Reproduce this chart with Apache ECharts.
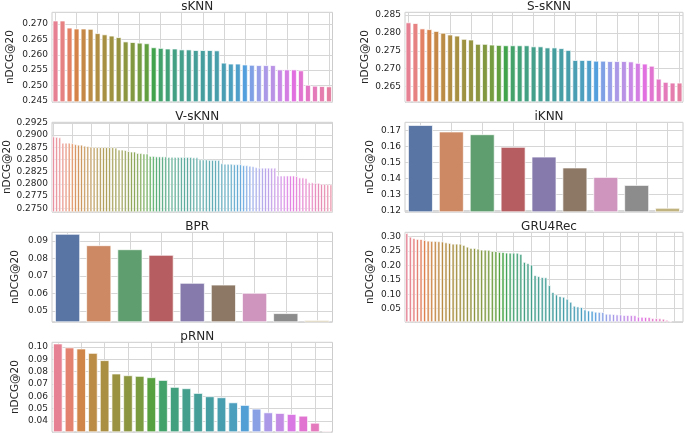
<!DOCTYPE html>
<html><head><meta charset="utf-8">
<script src="https://cdn.jsdelivr.net/npm/echarts@6/dist/echarts.min.js"></script>
<style>html,body{margin:0;padding:0;background:#fff}#c{width:685px;height:433px}</style>
</head><body><div id="c"></div>
<script>
// ---------------- data ----------------
const titles = ['sKNN', 'S-sKNN', 'V-sKNN', 'iKNN', 'BPR', 'GRU4Rec', 'pRNN'];
const yLabel = 'nDCG@20';

const sknn = [0.2711,0.2711,0.2688,0.2685,0.2685,0.2684,0.2670,0.2666,0.2662,0.2657,
  0.2643,0.2641,0.2639,0.2637,0.2624,0.2622,0.2620,0.2620,0.2617,0.2617,
  0.2615,0.2615,0.2615,0.2614,0.2574,0.2571,0.2571,0.2568,0.2567,0.2566,
  0.2566,0.2566,0.2552,0.2552,0.2552,0.2549,0.2502,0.2499,0.2498,0.2497];

const ssknn = [0.2829,0.2827,0.2812,0.2810,0.2805,0.2800,0.2795,0.2792,0.2783,0.2781,
  0.2769,0.2769,0.2767,0.2766,0.2765,0.2765,0.2765,0.2765,0.2762,0.2762,
  0.2759,0.2759,0.2757,0.2752,0.2724,0.2724,0.2724,0.2722,0.2722,0.2721,
  0.2721,0.2721,0.2720,0.2716,0.2714,0.2708,0.2672,0.2663,0.2661,0.2661];

const vsknn = [0.2897,0.2896,0.2895,
  0.2884,0.2884,0.2884,0.2883,
  0.2881,0.2880,0.2880,
  0.2878,0.2877,0.2876,
  0.2875,0.2875,0.2875,0.2875,0.2875,0.2875,0.2875,0.2874,
  0.2870,0.2870,0.2869,
  0.2867,0.2866,0.2866,
  0.2863,0.2863,0.2862,0.2862,
  0.2857,0.2857,0.2856,0.2856,
  0.2856,0.2856,0.2855,0.2855,0.2855,0.2855,0.2855,0.2855,0.2855,0.2855,0.2854,0.2854,
  0.2850,0.2850,0.2850,0.2849,0.2849,0.2849,0.2849,
  0.2842,0.2841,0.2841,0.2841,0.2840,0.2840,0.2840,
  0.2838,0.2838,0.2837,0.2836,
  0.2834,0.2833,0.2833,0.2833,0.2833,0.2833,0.2833,
  0.2817,0.2817,0.2817,0.2817,0.2817,0.2817,0.2816,
  0.2813,0.2813,0.2812,
  0.2803,0.2803,0.2802,0.2802,
  0.2800,0.2800,0.2799,0.2799];

const iknn = [0.1733,0.1692,0.1675,0.1596,0.1535,0.1467,0.1408,0.1358,0.1215];

const bpr = [0.0940,0.0875,0.0852,0.0820,0.0660,0.0650,0.0603,0.0487,0.0447];

const gru4rec = [0.311,0.2986,0.294,0.2907,0.2905,0.2872,0.2849,0.284,0.2838,0.2828,
  0.282,0.279,0.277,0.2745,0.2745,0.2743,0.270,0.264,0.2597,0.2595,
  0.2573,0.2538,0.2536,0.2530,0.2493,0.2488,0.2459,0.2455,0.2435,0.2432,
  0.2432,0.2430,0.239,0.2114,0.2069,0.202,0.1655,0.162,0.159,0.158,
  0.131,0.107,0.0986,0.093,0.0907,0.0838,0.0734,0.0597,0.0572,0.0552,
  0.0469,0.0434,0.0424,0.039,0.0383,0.038,0.032,0.032,0.031,0.0297,
  0.0295,0.0276,0.0275,0.0272,0.027,0.0217,0.0215,0.021,0.0208,0.0172,
  0.017,0.0165,0.0148,0.011,0.0069,0.0046,0.0046,0.0046];

const prnn = [0.1027,0.0995,0.0986,0.0951,0.0892,0.0784,0.0770,0.0765,0.0754,0.0732,
  0.0676,0.0665,0.0627,0.0600,0.0592,0.0551,0.0530,0.0500,0.0470,0.0465,
  0.0457,0.0443,0.0386,0.0320];

const seriesData = [sknn, ssknn, vsknn, iknn, bpr, gru4rec, prnn];
const tickSteps = [0.005, 0.005, 0.0025, 0.01, 0.01, 0.05, 0.01];
const tickDecimals = [3, 3, 4, 2, 2, 2, 2];

// ---------------- layout ----------------
const panels = [
  {left: 52,  top: 12.3,  width: 280.5, height: 89.5, nameGap: 36.5},
  {left: 405, top: 12.3,  width: 278,   height: 89.5, nameGap: 34.5},
  {left: 52,  top: 122.3, width: 280.5, height: 89.5, nameGap: 39.5},
  {left: 405, top: 122.3, width: 278,   height: 89.5, nameGap: 29.5},
  {left: 52,  top: 232.3, width: 280.5, height: 89.5, nameGap: 31.5},
  {left: 405, top: 232.3, width: 278,   height: 89.5, nameGap: 29.5},
  {left: 52,  top: 342.3, width: 280.5, height: 89.5, nameGap: 31.5}
];

// ---------------- seaborn palettes ----------------
const M = [[3.2406,-1.5372,-0.4986],[-0.9689,1.8758,0.0415],[0.0557,-0.2040,1.0570]];
function maxChroma(L, H) {
  const hr = H * Math.PI / 180, sinH = Math.sin(hr), cosH = Math.cos(hr);
  const sub1 = Math.pow(L + 16, 3) / 1560896;
  const sub2 = sub1 > 0.008856 ? sub1 : L / 903.3;
  let res = Infinity;
  for (const [m1, m2, m3] of M) {
    const top = (0.99915 * m1 + 1.05122 * m2 + 1.14460 * m3) * sub2;
    const rb = 0.86330 * m3 - 0.17266 * m2;
    const lb = 0.12949 * m3 - 0.38848 * m1;
    const bottom = (rb * sinH + lb * cosH) * sub2;
    for (const t of [0, 1]) {
      const C = L * (top - 1.05122 * t) / (bottom + 0.17266 * sinH * t);
      if (C > 0 && C < res) res = C;
    }
  }
  return res;
}
function huslToRgb(H, S, L) {
  const C = maxChroma(L, H) / 100 * S;
  const hr = H * Math.PI / 180;
  const U = Math.cos(hr) * C, V = Math.sin(hr) * C;
  const fInv = t => Math.pow(t, 3) > 0.008856 ? Math.pow(t, 3) : (116 * t - 16) / 903.3;
  const varY = fInv((L + 16) / 116);
  const varU = U / (13 * L) + 0.19784, varV = V / (13 * L) + 0.46834;
  const Y = varY;
  const X = 0 - (9 * Y * varU) / ((varU - 4) * varV - varU * varV);
  const Z = (9 * Y - 15 * varV * Y - varV * X) / (3 * varV);
  return M.map(r => {
    const c = r[0] * X + r[1] * Y + r[2] * Z;
    const v = c <= 0.0031308 ? 12.92 * c : 1.055 * Math.pow(c, 1 / 2.4) - 0.055;
    return Math.min(1, Math.max(0, v));
  });
}
function rgbToHls(r, g, b) {
  const maxc = Math.max(r, g, b), minc = Math.min(r, g, b);
  const l = (minc + maxc) / 2;
  if (minc === maxc) return [0, l, 0];
  const s = l <= 0.5 ? (maxc - minc) / (maxc + minc) : (maxc - minc) / (2 - maxc - minc);
  const rc = (maxc - r) / (maxc - minc), gc = (maxc - g) / (maxc - minc), bc = (maxc - b) / (maxc - minc);
  let h;
  if (r === maxc) h = bc - gc; else if (g === maxc) h = 2 + rc - bc; else h = 4 + gc - rc;
  h = ((h / 6) % 1 + 1) % 1;
  return [h, l, s];
}
function hlsToRgb(h, l, s) {
  if (s === 0) return [l, l, l];
  const m2 = l <= 0.5 ? l * (1 + s) : l + s - l * s;
  const m1 = 2 * l - m2;
  const v = (hue) => {
    hue = ((hue % 1) + 1) % 1;
    if (hue < 1 / 6) return m1 + (m2 - m1) * hue * 6;
    if (hue < 0.5) return m2;
    if (hue < 2 / 3) return m1 + (m2 - m1) * (2 / 3 - hue) * 6;
    return m1;
  };
  return [v(h + 1 / 3), v(h), v(h - 1 / 3)];
}
function desat(rgb, p) {
  const [h, l, s] = rgbToHls(rgb[0], rgb[1], rgb[2]);
  return hlsToRgb(h, l, s * p);
}
function toHex(rgb) {
  return '#' + rgb.map(c => Math.round(c * 255).toString(16).padStart(2, '0')).join('');
}
function hexToRgb(h) {
  return [1, 3, 5].map(i => parseInt(h.substr(i, 2), 16) / 255);
}
const deep = ['#4C72B0','#DD8452','#55A868','#C44E52','#8172B3','#937860','#DA8BC3','#8C8C8C','#CCB974','#64B5CD'];
function palette(n) {
  let cols;
  if (n <= deep.length) {
    cols = deep.slice(0, n).map(hexToRgb);
  } else {
    cols = [];
    for (let i = 0; i < n; i++) {
      let h = (i / n + 0.01) % 1;
      cols.push(huslToRgb(h * 359, 0.9 * 99, 0.65 * 99));
    }
  }
  return cols.map(c => toHex(desat(c, 0.75)));
}

// ---------------- option ----------------
const font = 'DejaVu Sans, Liberation Sans, sans-serif';
const textColor = '#262626';
const gridColor = '#d6d6d6';

const option = {
  backgroundColor: '#ffffff',
  animation: false,
  title: [], grid: [], xAxis: [], yAxis: [], series: []
};

seriesData.forEach((vals, k) => {
  const p = panels[k];
  const cols = palette(vals.length);
  const vmin = Math.min(...vals), vmax = Math.max(...vals);
  option.title.push({
    text: titles[k],
    left: p.left + p.width / 2,
    top: p.top - 16.5,
    textAlign: 'center',
    textStyle: {fontFamily: font, fontSize: 12, fontWeight: 'normal', color: textColor}
  });
  option.grid.push({
    left: p.left, top: p.top, width: p.width, height: p.height,
    show: true, borderColor: '#cccccc', borderWidth: 1, backgroundColor: 'transparent'
  });
  option.xAxis.push({
    type: 'category', gridIndex: k,
    data: vals.map((v, i) => String(i)),
    axisLabel: {show: false}, axisTick: {show: false}, axisLine: {show: false},
    splitLine: {show: true, alignWithLabel: true, lineStyle: {color: gridColor, width: 1}}
  });
  option.yAxis.push({
    type: 'value', gridIndex: k,
    min: vmin * 0.98, max: vmax * 1.01,
    minInterval: tickSteps[k], maxInterval: tickSteps[k],
    name: yLabel, nameLocation: 'middle', nameRotate: 90, nameGap: p.nameGap,
    nameTextStyle: {fontFamily: font, fontSize: 10.5, color: textColor},
    axisLine: {show: false}, axisTick: {show: false},
    axisLabel: {
      fontFamily: font, fontSize: 9, color: textColor, margin: 4,
      showMinLabel: false, showMaxLabel: false,
      formatter: v => {
        const r = Math.round(v / tickSteps[k]) * tickSteps[k];
        if (Math.abs(r - v) > tickSteps[k] * 1e-3) return '';
        return r.toFixed(tickDecimals[k]);
      }
    },
    splitLine: {show: true, lineStyle: {color: gridColor, width: 1}}
  });
  option.series.push({
    type: 'bar', xAxisIndex: k, yAxisIndex: k,
    barCategoryGap: '20%',
    data: vals.map((v, i) => ({value: v, itemStyle: {color: cols[i]}})),
    itemStyle: {borderColor: '#ffffff', borderWidth: 0.7},
    clip: true
  });
});

const chart = echarts.init(document.getElementById('c'), null, {renderer: 'canvas'});
chart.setOption(option);
</script>
</body></html>
